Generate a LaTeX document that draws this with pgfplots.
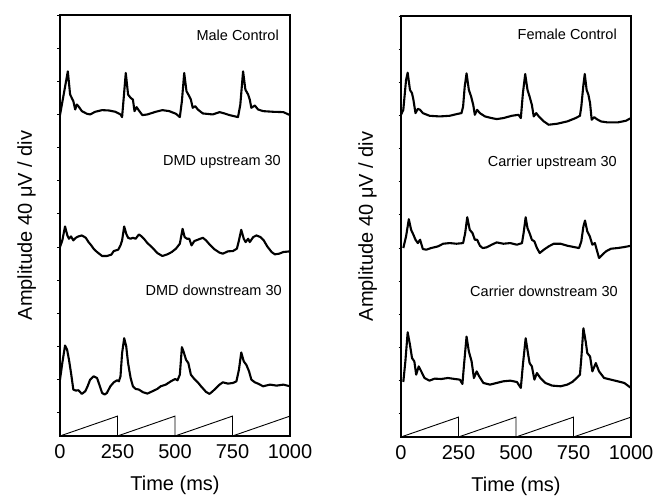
\documentclass[border=0pt]{standalone}
\usepackage{fontspec}
\setmainfont{Liberation Sans}
\usepackage{pgfplots}
\pgfplotsset{compat=1.18}
\begin{document}
\begin{tikzpicture}
\useasboundingbox (0,0) rectangle (667bp,496bp);
\tikzset{
  note/.style={anchor=base east, font=\fontsize{14.5bp}{16bp}\selectfont, inner sep=0pt},
  trace/.style={black, line width=2.1bp, line join=round},
  ramp/.style={black, line width=0.9bp},
}
\pgfplotsset{
  panel/.style={
    scale only axis, width=230bp, height=421bp,
    xmin=0, xmax=1000, ymin=-0.7, ymax=12,
    xtick={0,250,500,750,1000}, ytick={0,...,12}, yticklabels={},
    tick align=outside, major tick length=2.5bp,
    ytick pos=left, xtick pos=bottom,
    xtick style={draw=none},
    ytick style={black, line width=0.8bp},
    axis line style={line width=1.6bp},
    /pgf/number format/assume math mode=true,
    /pgf/number format/1000 sep={},
    ticklabel style={font=\fontsize{20bp}{24bp}\selectfont},
    xticklabel style={yshift=-3bp},
    xlabel={Time (ms)},
    ylabel={Amplitude 40 μV / div},
    label style={font=\fontsize{20bp}{24bp}\selectfont},
    xlabel style={yshift=-10bp},
    ylabel style={at={(axis description cs:-0.145,0.5)}, anchor=center},
    clip=false,
  },
}
% ---------------- left panel ----------------
\begin{axis}[panel, at={(60bp,60bp)}, anchor=south west]
\addplot[trace] coordinates {
(0,8.98)(34,10.30)(44,9.60)(51,9.50)(58,9.40)(66,9.15)(73,9.30)(80,9.25)(95,9.10)
(117,9.02)(131,9.00)(153,9.08)(183,9.13)(212,9.12)(241,9.08)(263,9.00)(270,8.92)
(277,9.50)(286,10.25)(296,9.60)(307,9.50)(317,9.45)(324,9.10)(333,9.22)(343,9.12)
(358,8.98)(380,9.00)(416,9.08)(445,9.13)(475,9.10)(504,9.02)(521,8.92)(530,9.40)
(540,10.25)(550,9.70)(562,9.55)(569,9.45)(577,9.20)(588,9.25)(599,9.15)(621,9.03)
(664,9.00)(694,9.07)(715,9.03)(737,8.98)(774,8.92)(784,9.30)(796,10.30)(806,9.75)
(818,9.60)(825,9.45)(832,9.20)(847,9.27)(861,9.15)(883,9.10)(927,9.08)(971,9.07)(1000,8.98)};
\addplot[trace] coordinates {
(0,5.00)(10,5.20)(22,5.62)(32,5.35)(39,5.25)(48,5.32)(58,5.20)(69,5.28)(80,5.32)
(95,5.35)(112,5.28)(124,5.15)(136,5.05)(146,4.95)(161,4.85)(183,4.73)(204,4.73)
(223,4.77)(234,4.88)(253,4.92)(263,5.05)(270,5.20)(279,5.62)(288,5.40)(296,5.28)
(307,5.25)(317,5.28)(329,5.25)(343,5.38)(355,5.32)(365,5.25)(380,5.12)(402,4.98)
(423,4.82)(445,4.73)(467,4.78)(486,4.85)(504,4.95)(521,5.10)(533,5.55)(542,5.30)
(552,5.25)(562,5.25)(572,5.05)(584,5.18)(599,5.22)(621,5.28)(635,5.20)(650,5.08)
(672,4.93)(694,4.83)(708,4.80)(730,4.87)(752,4.88)(769,4.95)(778,5.20)(788,5.52)
(799,5.25)(807,5.15)(818,5.25)(825,5.15)(840,5.30)(854,5.35)(872,5.30)(886,5.20)
(901,5.02)(920,4.85)(934,4.78)(953,4.80)(971,4.85)(1000,4.87)};
\addplot[trace] coordinates {
(0,1.00)(10,1.50)(22,2.03)(31,1.90)(39,1.60)(48,1.20)(58,0.70)(69,0.67)(80,0.68)
(95,0.57)(110,0.65)(120,0.80)(131,1.00)(146,1.10)(161,1.05)(171,0.85)(183,0.60)
(194,0.55)(204,0.60)(219,0.80)(234,0.92)(248,0.98)(256,0.95)(263,1.10)(270,1.80)
(279,2.25)(288,2.00)(296,1.50)(307,1.05)(317,0.80)(329,0.72)(343,0.70)(361,0.62)
(380,0.58)(402,0.65)(423,0.72)(438,0.80)(460,0.85)(482,0.95)(501,1.02)(511,0.98)
(521,1.15)(530,1.98)(537,1.85)(548,1.60)(558,1.50)(569,1.15)(584,1.02)(599,0.92)
(613,0.80)(635,0.63)(650,0.57)(664,0.65)(679,0.75)(694,0.85)(708,0.92)(730,0.88)
(752,0.90)(767,0.95)(778,1.30)(788,1.82)(799,1.55)(810,1.45)(822,1.25)(832,1.00)
(847,0.92)(861,0.88)(883,0.80)(913,0.85)(942,0.82)(971,0.85)(1000,0.80)};
\addplot[ramp] coordinates {(0,-0.7)(250,-0.1)(250,-0.7)(500,-0.1)(500,-0.7)(750,-0.1)(750,-0.7)(1000,-0.1)(1000,-0.7)};
\node[note] at (axis cs:952,11.24) {Male Control};
\node[note] at (axis cs:961,7.47) {DMD upstream 30};
\node[note] at (axis cs:965,3.55) {DMD downstream 30};
\end{axis}
% ---------------- right panel ----------------
\begin{axis}[panel, at={(401bp,59bp)}, anchor=south west]
\addplot[trace] coordinates {
(0,9.02)(10,9.17)(22,10.07)(29,10.29)(39,9.77)(48,9.67)(54,9.47)(63,9.07)(73,9.20)
(83,9.17)(95,9.07)(124,8.99)(168,8.97)(212,8.99)(248,9.05)(263,9.07)(270,9.27)
(277,9.87)(285,10.27)(295,9.77)(305,9.57)(314,9.32)(321,9.02)(331,9.17)(343,9.07)
(365,8.97)(394,8.92)(416,8.89)(445,8.92)(482,8.99)(511,9.02)(521,8.92)(530,9.67)
(540,10.25)(550,9.77)(559,9.57)(569,9.32)(577,8.97)(588,9.07)(599,8.97)(621,8.82)
(642,8.72)(679,8.75)(723,8.82)(759,8.92)(778,8.99)(784,9.27)(793,9.92)(799,10.25)
(807,9.77)(815,9.62)(822,9.37)(829,8.87)(840,8.95)(851,8.89)(869,8.82)(898,8.79)
(942,8.79)(978,8.84)(1000,8.92)};
\addplot[trace] coordinates {
(10,5.00)(22,5.35)(34,5.87)(44,5.55)(54,5.40)(63,5.25)(73,5.15)(83,5.25)(95,4.97)
(110,4.95)(131,5.00)(161,5.05)(183,5.13)(212,5.15)(241,5.13)(270,5.15)(279,5.45)
(288,5.93)(299,5.55)(311,5.45)(321,5.25)(331,5.25)(343,5.07)(355,5.00)(372,5.02)
(394,5.10)(416,5.17)(445,5.13)(475,5.15)(504,5.10)(526,5.15)(533,5.45)(542,5.93)
(550,5.60)(559,5.45)(569,5.25)(580,5.20)(591,5.00)(603,4.85)(621,4.95)(642,5.05)
(664,5.13)(694,5.13)(723,5.07)(752,5.03)(774,5.00)(784,5.20)(793,5.65)(800,5.83)
(810,5.50)(821,5.35)(832,5.10)(843,5.15)(851,4.95)(861,4.70)(876,4.80)(891,4.90)
(913,4.98)(942,5.00)(971,5.03)(1000,5.07)};
\addplot[trace] coordinates {
(10,0.96)(19,1.58)(29,2.46)(39,2.08)(48,1.68)(58,1.58)(66,1.18)(77,1.43)(88,1.28)
(102,1.08)(124,1.00)(146,1.06)(175,1.05)(204,1.08)(234,1.05)(256,1.03)(267,0.90)
(274,1.48)(285,2.33)(295,1.88)(307,1.58)(317,1.08)(329,1.28)(340,1.13)(358,0.93)
(387,0.88)(416,0.93)(445,0.98)(475,1.00)(504,0.96)(521,0.78)(530,1.48)(542,2.28)
(552,1.83)(559,1.53)(569,1.43)(580,1.03)(591,1.23)(606,1.08)(628,0.93)(657,0.85)
(694,0.83)(723,0.88)(745,0.96)(767,1.10)(778,1.18)(784,1.68)(793,2.58)(803,2.18)
(810,1.83)(822,1.73)(832,1.28)(847,1.53)(861,1.28)(883,1.08)(913,1.03)(942,0.98)
(971,0.93)(1000,0.78)};
\addplot[ramp] coordinates {(0,-0.7)(250,-0.1)(250,-0.7)(500,-0.1)(500,-0.7)(750,-0.1)(750,-0.7)(1000,-0.1)(1000,-0.7)};
\node[note] at (axis cs:939,11.28) {Female Control};
\node[note] at (axis cs:939,7.46) {Carrier upstream 30};
\node[note] at (axis cs:943,3.55) {Carrier downstream 30};
\end{axis}
\end{tikzpicture}
\end{document}
